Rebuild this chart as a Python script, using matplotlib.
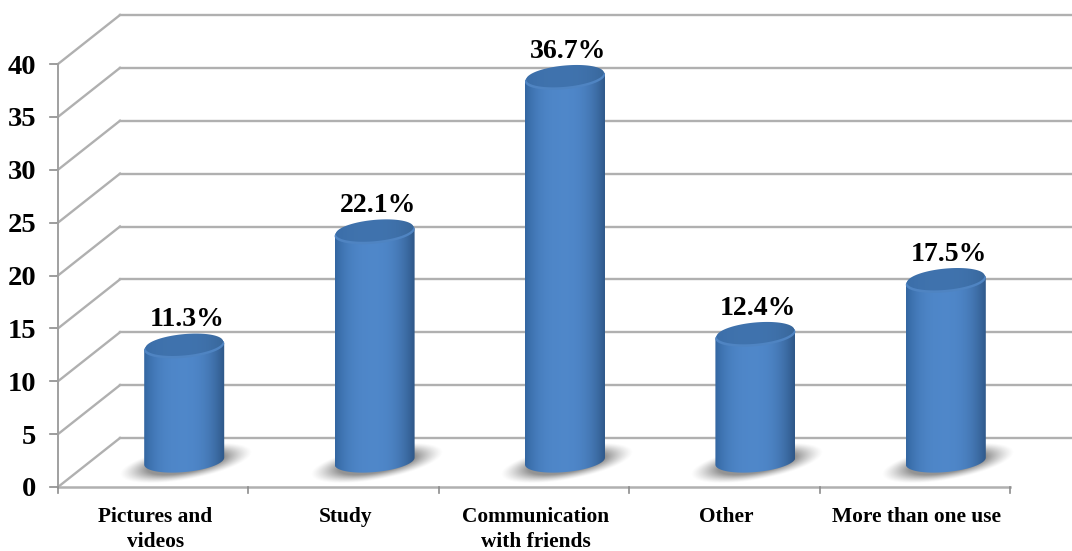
#!/usr/bin/env python3
# -*- coding: utf-8 -*-

import numpy as np
import matplotlib
matplotlib.use('Agg')
import matplotlib.pyplot as plt
from matplotlib.patches import PathPatch, Polygon
from matplotlib.path import Path

categories = ['Pictures and\nvideos', 'Study', 'Communication\nwith friends', 'Other', 'More than one use']
values = [11.3, 22.1, 36.7, 12.4, 17.5]
value_labels = ['11.3%', '22.1%', '36.7%', '12.4%', '17.5%']
y_ticks = [0, 5, 10, 15, 20, 25, 30, 35, 40]

GRID = '#b0b0b0'
SERIF = 'Liberation Serif'

# scale of the axes: pixels per category and per value unit
W, H = 1072, 551
X_UNIT = 190.4
Y_UNIT = 10.575
X0, Y0 = 58, 487

# 3D depth of the chart box, in data units
DEPTH_X = 62 / X_UNIT
DEPTH_Y = 49 / Y_UNIT

BAR_A = 40 / X_UNIT       # cylinder half width
CAP_B = 11 / Y_UNIT       # ellipse half height
CAP_TILT = 3.5 / Y_UNIT   # ellipses lean up to the right
CAP_DROP = 0.5


def ellipse_points(cx, cy, t, scale=1.0):
    return np.column_stack([cx + scale * BAR_A * np.cos(t),
                            cy + scale * CAP_B * np.sin(t) + scale * CAP_TILT * np.cos(t)])


def side_shade(count, dark_left, dark_right, light):
    # horizontal colour ramp of a cylinder, darker to the right
    s = np.linspace(-1, 1, count)
    left = np.clip(-s, 0, 1) ** 3
    right = np.clip(s, 0, 1) ** 2.4
    return light + (dark_left - light) * left[:, None] + (dark_right - light) * right[:, None]


def draw_shadow(ax, cx, cy):
    xs = np.linspace(cx - 0.42, cx + 0.42, 160)
    ys = np.linspace(cy - 3, cy + 3, 100)
    xx, yy = np.meshgrid(xs, ys)
    u = (xx - cx) / 0.35
    v = (yy - cy - (xx - cx) * 3.0) / 1.6
    r = np.sqrt(u ** 2 + v ** 2)
    edge = np.clip((1 - r) / 0.42, 0, 1)
    rgba = np.zeros(xx.shape + (4,))
    rgba[..., :3] = 0.38
    rgba[..., 3] = 0.68 * edge ** 1.3
    ax.imshow(rgba, extent=(xs[0], xs[-1], ys[0], ys[-1]), origin='lower',
              aspect='auto', zorder=2, interpolation='bilinear')


def draw_cylinder(ax, cx, base, top):
    lower = ellipse_points(cx, base, np.linspace(np.pi, 2 * np.pi, 60))
    upper = ellipse_points(cx, top, np.linspace(0, np.pi, 60))
    outline = np.vstack([lower, upper, lower[:1]])
    clip = PathPatch(Path(outline), transform=ax.transData, fc='none', ec='none')
    ax.add_patch(clip)

    body = side_shade(120, np.array([0.20, 0.40, 0.63]), np.array([0.18, 0.34, 0.53]),
                      np.array([0.31, 0.53, 0.79]))
    im = ax.imshow(body[None, :, :], extent=(cx - BAR_A, cx + BAR_A, base - 2, top + 2),
                   aspect='auto', zorder=3, interpolation='bilinear')
    im.set_clip_path(clip)

    # cap with a paler rim along its lower edge
    t = np.linspace(0, 2 * np.pi, 120)
    ax.add_patch(Polygon(ellipse_points(cx, top, t), closed=True, fc='#4f84c2', ec='none', zorder=4))
    cap = Polygon(ellipse_points(cx, top + 0.2, t, 0.97), closed=True, fc='none', ec='none')
    ax.add_patch(cap)
    cap_shade = side_shade(120, np.array([0.23, 0.43, 0.66]), np.array([0.22, 0.40, 0.60]),
                           np.array([0.25, 0.45, 0.68]))
    im = ax.imshow(cap_shade[None, :, :], extent=(cx - BAR_A, cx + BAR_A, top - 2, top + 2),
                   aspect='auto', zorder=5, interpolation='bilinear')
    im.set_clip_path(cap)


fig = plt.figure(figsize=(W / 100, H / 100), dpi=100)
ax = fig.add_axes([0, 0, 1, 1])
ax.axis('off')
xlim = (-X0 / X_UNIT, (W - X0) / X_UNIT)
ylim = (-(H - Y0) / Y_UNIT, Y0 / Y_UNIT)

n = len(categories)
x_right = (W - X0) / X_UNIT

# back wall and left wall lines
for tick in y_ticks:
    ax.plot([0, DEPTH_X], [tick, tick + DEPTH_Y], color=GRID, lw=1.7, zorder=1)
    ax.plot([DEPTH_X, x_right], [tick + DEPTH_Y, tick + DEPTH_Y], color=GRID, lw=1.7, zorder=1)
    ax.plot([-8 / X_UNIT, 0], [tick, tick], color='#8c8c8c', lw=1.2, zorder=1)
    ax.text(-22 / X_UNIT, tick, str(tick), ha='right', va='center_baseline', family=SERIF,
            fontweight='bold', fontsize=20.5, color='black')

# front axes
ax.plot([0, 0], [0, y_ticks[-1]], color='#a0a0a0', lw=1.4, zorder=1)
ax.plot([0, n], [0, 0], color=GRID, lw=1.8, zorder=1)
for i in range(n + 1):
    ax.plot([i, i], [0, -6 / Y_UNIT], color='#8c8c8c', lw=1.2, zorder=1)

for i, (name, val, label) in enumerate(zip(categories, values, value_labels)):
    cx = i + 0.5 + DEPTH_X / 2
    base = 2.45
    top = base + val - CAP_DROP
    draw_shadow(ax, cx + 2 / X_UNIT, base - 0.2)
    draw_cylinder(ax, cx, base, top)
    ax.text(cx + 3 / X_UNIT, top + 27 / Y_UNIT, label, ha='center', va='center', family=SERIF,
            fontweight='bold', fontsize=20, color='black', zorder=6)
    ax.text(i + 0.5 + 2 / X_UNIT, -(516 - Y0 - 9) / Y_UNIT, name, ha='center', va='top', family=SERIF,
            fontweight='bold', fontsize=15.4, color='black', linespacing=1.35)

ax.set_xlim(xlim)
ax.set_ylim(ylim)

plt.savefig('out.png', dpi=100)
